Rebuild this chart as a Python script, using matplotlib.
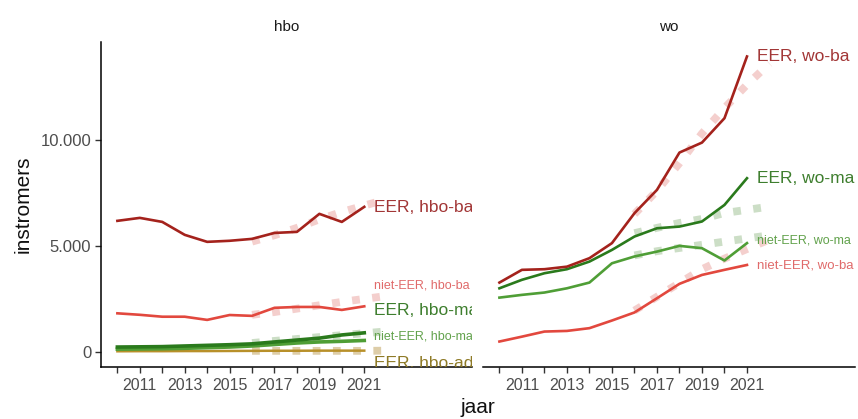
import matplotlib
matplotlib.use("Agg")
import matplotlib.pyplot as plt

plt.rcParams['font.family'] = ['Liberation Sans', 'DejaVu Sans']

years = [2010, 2011, 2012, 2013, 2014, 2015, 2016, 2017, 2018, 2019, 2020, 2021]
proj_years = [2016, 2017, 2018, 2019, 2020, 2021, 2022]

# hbo observed
hbo_eer_ba = [6180, 6320, 6130, 5520, 5190, 5240, 5330, 5610, 5660, 6510, 6130, 6840]
hbo_niet_ba = [1820, 1750, 1660, 1660, 1510, 1740, 1700, 2080, 2120, 2120, 1980, 2150]
hbo_eer_ma = [230, 240, 250, 280, 310, 340, 380, 470, 560, 650, 800, 900]
hbo_niet_ma = [130, 140, 150, 170, 200, 230, 280, 350, 420, 470, 500, 540]
hbo_eer_ad = [30, 35, 35, 40, 40, 45, 50, 55, 55, 60, 60, 60]

# hbo projections
hbo_eer_ba_p = [5200, 5500, 5850, 6250, 6600, 6900, 7200]
hbo_niet_ba_p = [1750, 1880, 2040, 2200, 2360, 2500, 2640]
hbo_eer_ma_p = [420, 520, 610, 700, 790, 880, 970]
hbo_eer_ad_p = [50, 50, 50, 50, 50, 50, 60]

# wo observed
wo_eer_ba = [3270, 3870, 3900, 4020, 4420, 5130, 6540, 7640, 9400, 9870, 11020, 13930]
wo_eer_ma = [3000, 3400, 3710, 3900, 4260, 4810, 5440, 5830, 5910, 6150, 6930, 8190]
wo_niet_ma = [2560, 2690, 2800, 3000, 3270, 4180, 4500, 4730, 5000, 4890, 4310, 5130]
wo_niet_ba = [490, 720, 960, 990, 1120, 1480, 1860, 2530, 3210, 3630, 3870, 4100]

# wo projections
wo_eer_ba_p = [6500, 7600, 8900, 10300, 11500, 12600, 13600]
wo_eer_ma_p = [5600, 5850, 6080, 6270, 6550, 6700, 6850]
wo_niet_ma_p = [4550, 4750, 4900, 5050, 5200, 5350, 5500]
wo_niet_ba_p = [1950, 2600, 3250, 3900, 4400, 4850, 5300]

# label texts and y positions
hbo_labels = ["EER, hbo-ba", "niet-EER, hbo-ba", "EER, hbo-ma", "niet-EER, hbo-ma", "EER, hbo-ad"]
hbo_label_y = [6800, 3150, 1970, 750, -560]
wo_labels = ["EER, wo-ba", "EER, wo-ma", "niet-EER, wo-ma", "niet-EER, wo-ba"]
wo_label_y = [13940, 8170, 5260, 4080]

C_EER_BA = "#A4221C"
C_NIET_BA = "#E2483E"
C_EER_MA = "#2A7A1C"
C_NIET_MA = "#4F9E36"
C_AD = "#B8902A"

T_EER_BA = "#A23636"
T_NIET_BA = "#E06A6A"
T_EER_MA = "#3E7E2E"
T_NIET_MA = "#62A24C"
T_AD = "#8E7A26"

P_RED = "#F4CFCD"
P_GREEN = "#CCDEC6"
P_TAN = "#DDCDA8"

W, H = 858, 419
fig = plt.figure(figsize=(W / 100, H / 100), dpi=100)

def ax_rect(x0, x1, ytop, ybot):
    return [x0 / W, 1 - ybot / H, (x1 - x0) / W, (ybot - ytop) / H]

ax1 = fig.add_axes(ax_rect(101, 472, 41.7, 366.7))
ax2 = fig.add_axes(ax_rect(483, 855, 41.7, 366.7))

XLIM = (2009.27, 2025.8)
YLIM = (-697, 14627)

def dotted(ax, y, color):
    ax.plot(proj_years, y, color=color, lw=5.6, linestyle=(0, (1, 1.6)),
            solid_capstyle='butt', dash_capstyle='butt', zorder=1)

def solid(ax, y, color, lw=1.9):
    ax.plot(years, y, color=color, lw=lw, zorder=3, solid_joinstyle='round')

# hbo panel
dotted(ax1, hbo_eer_ad_p, P_TAN)
dotted(ax1, hbo_eer_ma_p, P_GREEN)
dotted(ax1, hbo_niet_ba_p, P_RED)
dotted(ax1, hbo_eer_ba_p, P_RED)
solid(ax1, hbo_eer_ad, C_AD, 1.8)
solid(ax1, hbo_niet_ma, C_NIET_MA, 2.6)
solid(ax1, hbo_eer_ma, C_EER_MA, 2.6)
solid(ax1, hbo_niet_ba, C_NIET_BA)
solid(ax1, hbo_eer_ba, C_EER_BA)

hbo_cols = [T_EER_BA, T_NIET_BA, T_EER_MA, T_NIET_MA, T_AD]
hbo_sizes = [12.5, 9, 12.5, 9, 12.5]
for t, yv, c, s in zip(hbo_labels, hbo_label_y, hbo_cols, hbo_sizes):
    ax1.text(2021.45, yv, t, color=c, fontsize=s, ha='left', va='center', clip_on=True)

# wo panel
dotted(ax2, wo_niet_ba_p, P_RED)
dotted(ax2, wo_niet_ma_p, P_GREEN)
dotted(ax2, wo_eer_ma_p, P_GREEN)
dotted(ax2, wo_eer_ba_p, P_RED)
solid(ax2, wo_niet_ba, C_NIET_BA)
solid(ax2, wo_niet_ma, C_NIET_MA)
solid(ax2, wo_eer_ma, C_EER_MA)
solid(ax2, wo_eer_ba, C_EER_BA)

wo_cols = [T_EER_BA, T_EER_MA, T_NIET_MA, T_NIET_BA]
wo_sizes = [12.5, 12.5, 9, 9.5]
for t, yv, c, s in zip(wo_labels, wo_label_y, wo_cols, wo_sizes):
    ax2.text(2021.45, yv, t, color=c, fontsize=s, ha='left', va='center', clip_on=True)

for ax, title in [(ax1, "hbo"), (ax2, "wo")]:
    ax.set_xlim(*XLIM)
    ax.set_ylim(*YLIM)
    ax.set_xticks(years)
    ax.set_xticklabels([str(y) if y % 2 == 1 else "" for y in years])
    ax.tick_params(axis='x', length=4, width=1.0, color="#333333",
                   labelsize=11.5, labelcolor="#4d4d4d", pad=4)
    ax.spines['top'].set_visible(False)
    ax.spines['right'].set_visible(False)
    ax.spines['bottom'].set_linewidth(1.1)
    ax.spines['left'].set_linewidth(1.1)
    ax.set_title(title, fontsize=11, color="#1a1a1a", pad=8)
    ax.set_facecolor("white")

ax1.set_yticks([0, 5000, 10000])
ax1.set_yticklabels(["0", "5.000", "10.000"])
ax1.tick_params(axis='y', length=4, width=1.0, color="#333333",
                labelsize=12, labelcolor="#4d4d4d", pad=3)
ax2.spines['left'].set_visible(False)
ax2.set_yticks([])

ax1.set_ylabel("instromers", fontsize=15, color="#111111", labelpad=6)
fig.text(478 / W, 1 - 407 / H, "jaar", fontsize=15, color="#111111", ha='center', va='center')

fig.savefig("out.png", dpi=100, facecolor="white")
